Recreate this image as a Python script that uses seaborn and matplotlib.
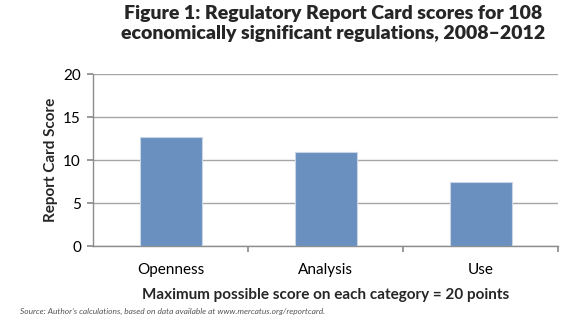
import matplotlib
matplotlib.use("Agg")
import matplotlib.pyplot as plt
import seaborn as sns
import pandas as pd

categories = ["Openness", "Analysis", "Use"]
scores = [12.7, 10.9, 7.5]
y_ticks = [0, 5, 10, 15, 20]

sns.set_theme(style="white")
plt.rcParams['font.family'] = ['Lato', 'DejaVu Sans']

df = pd.DataFrame({"category": categories, "score": scores})

fig = plt.figure(figsize=(5.8, 3.26), dpi=100)
ax = fig.add_axes([0.161, 0.245, 0.801, 0.528])
sns.barplot(data=df, x="category", y="score", color="#6990bf", width=0.4,
            saturation=1, ax=ax, edgecolor="#c9d6e8", linewidth=0.8, zorder=3)
ax.set_ylim(0, 20)
ax.set_yticks(y_ticks)
ax.set_xlim(-0.5, 2.5)
ax.yaxis.grid(True, color="#a6a6a6", linewidth=1.0, zorder=0)
ax.set_axisbelow(True)
for s in ["top", "right"]:
    ax.spines[s].set_visible(False)
for s in ["left", "bottom"]:
    ax.spines[s].set_color("#8c8c8c")
    ax.spines[s].set_linewidth(1.0)
ax.tick_params(axis="y", which="both", left=True, length=4, color="#8c8c8c",
               labelsize=11, labelcolor="black", pad=5)
ax.set_xticks([0.5, 1.5, 2.5], minor=False)
ax.set_xticklabels([])
ax.set_xticks([0, 1, 2], minor=True)
ax.set_xticklabels(categories, minor=True)
ax.tick_params(axis="x", which="major", bottom=True, length=4, color="#8c8c8c", direction="out")
ax.tick_params(axis="x", which="minor", bottom=False, labelsize=11, labelcolor="black", pad=8)
ax.set_xlabel("Maximum possible score on each category = 20 points", fontsize=11,
              fontweight="bold", labelpad=8)
ax.set_ylabel("Report Card Score", fontsize=11, fontweight="bold", labelpad=4)

fig.text(0.575, 0.985, "Figure 1: Regulatory Report Card scores for 108\neconomically significant regulations, 2008\u20132012",
         ha="center", va="top", fontsize=14, fontweight="heavy", linespacing=1.2)
fig.text(0.035, 0.035, "Source: Author\u2019s calculations, based on data available at www.mercatus.org/reportcard.",
         ha="left", va="bottom", fontsize=6, style="italic", color="#555555")

fig.savefig("out.png", dpi=100)
